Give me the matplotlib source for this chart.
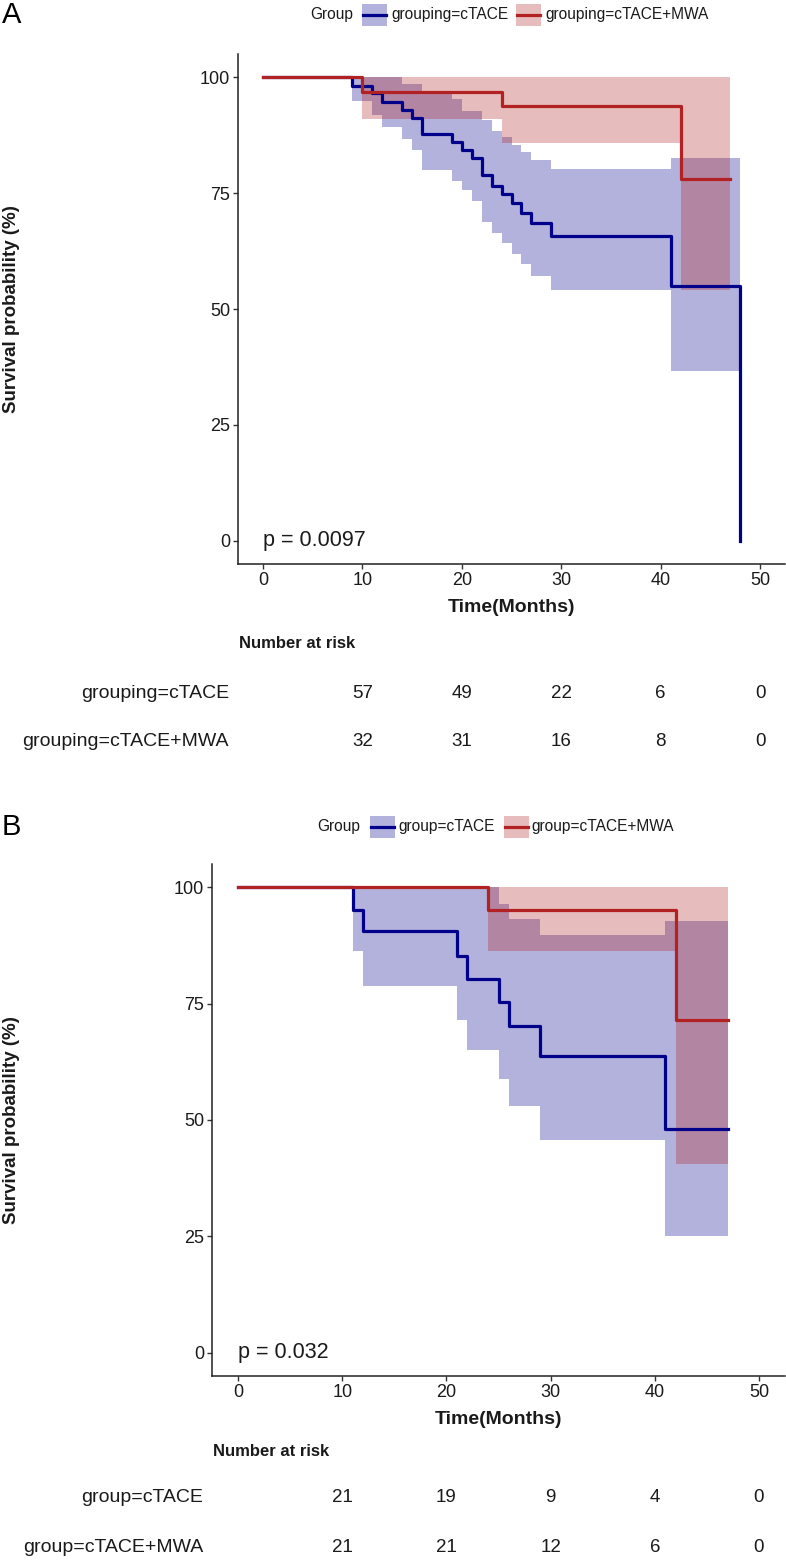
import matplotlib
matplotlib.use("Agg")
import matplotlib.pyplot as plt
import matplotlib.transforms as mtransforms
from matplotlib.patches import Rectangle
from matplotlib.lines import Line2D

plt.rcParams['font.family'] = ['Liberation Sans', 'DejaVu Sans']

# ---- panel A data ----
a_blue_time = [0, 9, 11, 12, 14, 15, 16, 19, 20, 21, 22, 23, 24, 25, 26, 27, 29, 41, 48]
a_blue_surv = [100, 98.2, 96.5, 94.7, 93.0, 91.2, 87.7, 86.0, 84.2, 82.5, 78.9, 76.6, 74.7, 72.8, 70.8, 68.5, 65.8, 54.9, 0]
a_blue_ci_time = [9, 11, 12, 14, 15, 16, 19, 20, 21, 22, 23, 24, 25, 26, 27, 29, 41]
a_blue_upper = [100, 100, 100, 98.6, 98.6, 96.6, 95.3, 92.8, 92.8, 90.7, 88.5, 87.0, 85.3, 83.9, 82.2, 80.3, 82.6]
a_blue_lower = [94.8, 91.8, 89.3, 86.7, 84.4, 79.9, 77.7, 75.6, 73.4, 68.7, 66.5, 64.3, 61.9, 59.7, 57.2, 54.0, 36.6]
a_blue_ci_end = 48

a_red_time = [0, 10, 24, 42, 47]
a_red_surv = [100, 96.9, 93.75, 78.1, 78.1]
a_red_ci_time = [10, 24, 42]
a_red_upper = [100, 100, 100]
a_red_lower = [90.9, 85.7, 54.2]
a_red_ci_end = 47

a_labels = ['grouping=cTACE', 'grouping=cTACE+MWA']
a_risk_blue = [57, 49, 22, 6, 0]
a_risk_red = [32, 31, 16, 8, 0]
a_pval = 'p = 0.0097'

# ---- panel B data ----
b_blue_time = [0, 11, 12, 21, 22, 25, 26, 29, 41, 47]
b_blue_surv = [100, 95.2, 90.5, 85.3, 80.4, 75.4, 70.3, 63.8, 48.0, 48.0]
b_blue_ci_time = [11, 12, 21, 22, 25, 26, 29, 41]
b_blue_upper = [100, 100, 100, 100, 96.5, 93.2, 89.8, 92.8]
b_blue_lower = [86.4, 78.7, 71.5, 65.0, 58.8, 53.1, 45.6, 25.0]
b_blue_ci_end = 47

b_red_time = [0, 24, 42, 47]
b_red_surv = [100, 95.2, 71.4, 71.4]
b_red_ci_time = [24, 42]
b_red_upper = [100, 100]
b_red_lower = [86.4, 40.5]
b_red_ci_end = 47

b_labels = ['group=cTACE', 'group=cTACE+MWA']
b_risk_blue = [21, 19, 9, 4, 0]
b_risk_red = [21, 21, 12, 6, 0]
b_pval = 'p = 0.032'

risk_times = [10, 20, 30, 40, 50]
x_ticks = [0, 10, 20, 30, 40, 50]
y_ticks = [0, 25, 50, 75, 100]

BLUE = '#00008B'
RED = '#B22222'
TXT = '#1a1a1a'

W, H = 786, 1565
fig = plt.figure(figsize=(W / 100, H / 100), dpi=100)


def fx(x):
    return x / W


def fy(y):
    return 1 - y / H


def band(ax, t, lo, hi, t_end, color):
    tt = list(t) + [t_end]
    ax.fill_between(tt, list(lo) + [lo[-1]], list(hi) + [hi[-1]], step='post',
                    color=color, alpha=0.3, linewidth=0)


def draw_panel(letter, top, left, bottom, blue, red, pval, labels, risk, lab_right, legend, ly,
               risk_y):
    # letter + legend
    fig.text(fx(2), fy(ly), letter, fontsize=21, ha='left', va='center', color='black')
    gx, k1, t1, k2, t2 = legend
    fig.text(fx(gx), fy(ly), 'Group', fontsize=11.2, ha='left', va='center', color=TXT)
    for kx, tx, col, lab in [(k1, t1, BLUE, labels[0]), (k2, t2, RED, labels[1])]:
        fig.add_artist(Rectangle((fx(kx), fy(ly + 11)), 25 / W, 22 / H, transform=fig.transFigure,
                                 facecolor=col, alpha=0.3, linewidth=0))
        fig.add_artist(Line2D([fx(kx + 1), fx(kx + 24)], [fy(ly), fy(ly)], color=col, lw=2.3,
                              transform=fig.transFigure))
        fig.text(fx(tx), fy(ly), lab, fontsize=11.2, ha='left', va='center', color=TXT)

    ax = fig.add_axes([fx(left), fy(bottom), fx(785) - fx(left), (bottom - top) / H])
    band(ax, *blue['ci'], BLUE)
    band(ax, *red['ci'], RED)
    ax.step(blue['t'], blue['s'], where='post', color=BLUE, lw=2.3)
    ax.step(red['t'], red['s'], where='post', color=RED, lw=2.3)
    ax.text(0, 0, pval, fontsize=15.5, ha='left', va='center', color=TXT)

    ax.set_xlim(-2.5, 52.5)
    ax.set_ylim(-5, 105)
    ax.set_xticks(x_ticks)
    ax.set_yticks(y_ticks)
    for s in ['top', 'right']:
        ax.spines[s].set_visible(False)
    for s in ['left', 'bottom']:
        ax.spines[s].set_linewidth(1.1)
        ax.spines[s].set_color('#222222')
    ax.tick_params(length=3.5, width=1, color='#333333', labelsize=13, labelcolor=TXT, pad=2)

    fig.text(fx(12), fy((top + bottom) / 2), 'Survival probability (%)', rotation=90,
             fontsize=13.5, fontweight='bold', ha='center', va='center', color=TXT)
    fig.text(fx((left + 785) / 2), fy(bottom + 43), 'Time(Months)', fontsize=14,
             fontweight='bold', ha='center', va='center', color=TXT)

    # number at risk table
    fig.text(fx(left + 1), fy(risk_y[0]), 'Number at risk', fontsize=12, fontweight='bold',
             ha='left', va='center', color=TXT)
    trans = mtransforms.blended_transform_factory(ax.transData, fig.transFigure)
    for lab, vals, yy in zip(labels, risk, risk_y[1:]):
        fig.text(fx(lab_right), fy(yy), lab, fontsize=14, ha='right', va='center', color=TXT)
        for t, v in zip(risk_times, vals):
            ax.text(t, fy(yy), str(v), transform=trans, fontsize=13.5, ha='center', va='center',
                    color=TXT)
    return ax


draw_panel('A', 54, 238, 564,
           {'t': a_blue_time, 's': a_blue_surv,
            'ci': (a_blue_ci_time, a_blue_lower, a_blue_upper, a_blue_ci_end)},
           {'t': a_red_time, 's': a_red_surv,
            'ci': (a_red_ci_time, a_red_lower, a_red_upper, a_red_ci_end)},
           a_pval, a_labels, [a_risk_blue, a_risk_red], 229,
           (310, 362, 391, 516, 545), 15, (643, 693, 742))

draw_panel('B', 864, 212, 1376,
           {'t': b_blue_time, 's': b_blue_surv,
            'ci': (b_blue_ci_time, b_blue_lower, b_blue_upper, b_blue_ci_end)},
           {'t': b_red_time, 's': b_red_surv,
            'ci': (b_red_ci_time, b_red_lower, b_red_upper, b_red_ci_end)},
           b_pval, b_labels, [b_risk_blue, b_risk_red], 203,
           (317, 370, 398, 504, 531), 827, (1452, 1498, 1547))

fig.savefig('out.png', dpi=100)
